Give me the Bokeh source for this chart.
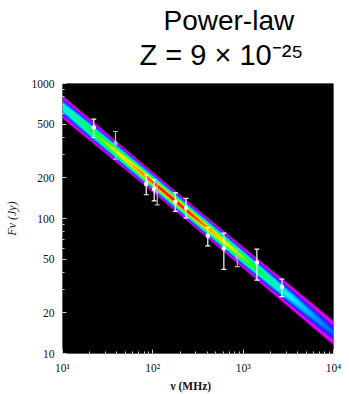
import numpy as np
from bokeh.plotting import figure
from bokeh.models import (ColumnDataSource, FixedTicker, Title,
                          Range1d, CustomJSTickFormatter, PrintfTickFormatter)
from bokeh.embed import file_html
from bokeh.resources import INLINE

# ---------------- data ----------------
freq_white = [22.2, 84.5, 103.5, 178, 233, 406, 611, 1419, 2686]
flux_white = [472, 180, 165, 133, 120, 74.5, 60, 47.2, 31.2]
lower_white = [398, 150, 135, 113, 101, 62.8, 42, 35, 26.4]
upper_white = [545, 210, 194, 155, 141, 85.8, 78, 59.3, 35.6]

freq_gray = [38.6, 112, 861]
flux_gray = [361, 160, 52]
lower_gray = [275, 126, 44]
upper_gray = [441, 185, 59.3]

# power-law posterior (band)
pivot_mhz = 170.0
amp_at_pivot = 138.0      # Jy
spectral_index = -0.558
sigma_log_amp = 0.052     # dex
sigma_index = 0.038
colour_scale_k = 1.5      # colour runs over |z-score| up to this value

x_tick_values = [10, 100, 1000, 10000]
x_tick_labels = ["10\u00b9", "10\u00b2", "10\u00b3", "10\u2074"]
y_tick_values = [10, 20, 50, 100, 200, 500, 1000]

title_line1 = "Power-law"
title_line2 = "Z = 9 \u00d7 10\u207b\u00b2\u2075"
x_label = "\u03bd (MHz)"
y_label = "F\u03bd (Jy)"

# ---------------- figure ----------------
p = figure(width=349, height=394, x_axis_type="log", y_axis_type="log",
           x_range=Range1d(10, 1e4), y_range=Range1d(10, 1000),
           output_backend="svg", toolbar_location=None,
           min_border_left=62, min_border_right=16, min_border_top=83, min_border_bottom=41)
p.background_fill_color = "black"
p.border_fill_color = "white"
p.outline_line_color = None
p.grid.visible = False

# ---------------- posterior density image ----------------
nx, ny = 271, 270
lx = 1 + (np.arange(nx) + 0.5) / nx * 3
ly = 1 + (np.arange(ny) + 0.5) / ny * 2
LX, LY = np.meshgrid(lx, ly)
lp = np.log10(pivot_mhz)
mean = np.log10(amp_at_pivot) + spectral_index * (LX - lp)
sig = np.sqrt(sigma_log_amp ** 2 + (sigma_index * (LX - lp)) ** 2)
dens = (sigma_log_amp / sig) * np.exp(-0.5 * ((LY - mean) / sig) ** 2)
level = 1 - np.sqrt(-2 * np.log(np.maximum(dens, 1e-30))) / colour_scale_k

stops = [0.0, 0.04, 0.11, 0.19, 0.29, 0.46, 0.59, 0.71, 0.81, 0.90, 1.0]
cols = [(0, 0, 0), (120, 0, 130), (255, 0, 255), (220, 0, 255), (10, 30, 255), (0, 245, 255),
        (0, 255, 40), (245, 255, 0), (255, 140, 0), (255, 10, 0), (255, 0, 0)]
img = np.empty((ny, nx), dtype=np.uint32)
view = img.view(dtype=np.uint8).reshape((ny, nx, 4))
for c in range(3):
    view[..., c] = np.interp(level, stops, [col[c] for col in cols]).astype(np.uint8)
view[..., 3] = 255
p.image_rgba(image=[img], x=10, y=10, dw=9990, dh=990)

# ---------------- error bars ----------------
for fr, fl, lo, hi, colr in [(freq_white, flux_white, lower_white, upper_white, "white"),
                             (freq_gray, flux_gray, lower_gray, upper_gray, "#b4b4b4")]:
    src = ColumnDataSource(dict(x=fr, y=fl, lower=lo, upper=hi))
    p.segment(x0="x", y0="lower", x1="x", y1="upper", source=src, line_color=colr, line_width=1.2)
    p.scatter(x="x", y="lower", source=src, marker="dash", size=5, line_color=colr, line_width=1.2)
    p.scatter(x="x", y="upper", source=src, marker="dash", size=5, line_color=colr, line_width=1.2)
    p.scatter("x", "y", source=src, marker="square", size=3, color=colr)

# ---------------- axes ----------------
minor_x = [m * 10 ** k for k in (1, 2, 3) for m in range(2, 10)]
minor_y = [m * 10 ** k for k in (1, 2) for m in range(2, 10)]
p.xaxis.ticker = FixedTicker(ticks=x_tick_values, minor_ticks=minor_x)
p.yaxis.ticker = FixedTicker(ticks=y_tick_values, minor_ticks=minor_y)
p.xaxis.formatter = CustomJSTickFormatter(
    args=dict(vals=x_tick_values, labs=x_tick_labels),
    code="const i = vals.findIndex(v => Math.abs(v - tick) / v < 1e-6); return i >= 0 ? labs[i] : '';")
p.yaxis.formatter = PrintfTickFormatter(format="%d")
for ax in (p.xaxis, p.yaxis):
    ax.axis_line_color = None
    ax.major_tick_in = 4
    ax.major_tick_out = 0
    ax.minor_tick_in = 2
    ax.minor_tick_out = 0
    ax.major_tick_line_color = "#d0d0d0"
    ax.minor_tick_line_color = "#d0d0d0"
    ax.major_label_text_font = "Liberation Serif"
    ax.major_label_text_font_size = "11.5px"
    ax.major_label_text_color = "#111111"
p.xaxis.major_label_standoff = 8
p.yaxis.major_label_standoff = 8

p.yaxis.axis_label = y_label
p.yaxis.axis_label_text_font = "Liberation Serif"
p.yaxis.axis_label_text_font_style = "italic"
p.yaxis.axis_label_text_font_size = "12px"
p.yaxis.axis_label_text_color = "#111111"
p.yaxis.axis_label_standoff = 10

# ---------------- titles ----------------
# line nearest the frame
t2 = Title(text=title_line2, align="left", offset=77, vertical_align="bottom",
           text_font="Liberation Sans", text_font_size="29px", text_font_style="normal",
           text_color="#000000", standoff=26)
p.add_layout(t2, "above")

p.title.text = title_line1
p.title.align = "left"
p.title.offset = 101
p.title.vertical_align = "bottom"
p.title.text_font = "Liberation Sans"
p.title.text_font_size = "28px"
p.title.text_font_style = "normal"
p.title.text_color = "#000000"
p.title.standoff = -24

xl = Title(text=x_label, align="left", offset=108, vertical_align="bottom",
           text_font="Liberation Serif", text_font_size="11.5px", text_font_style="bold",
           text_color="#111111", standoff=2)
p.add_layout(xl, "below")

open("out.html", "w").write(file_html(p, INLINE))
